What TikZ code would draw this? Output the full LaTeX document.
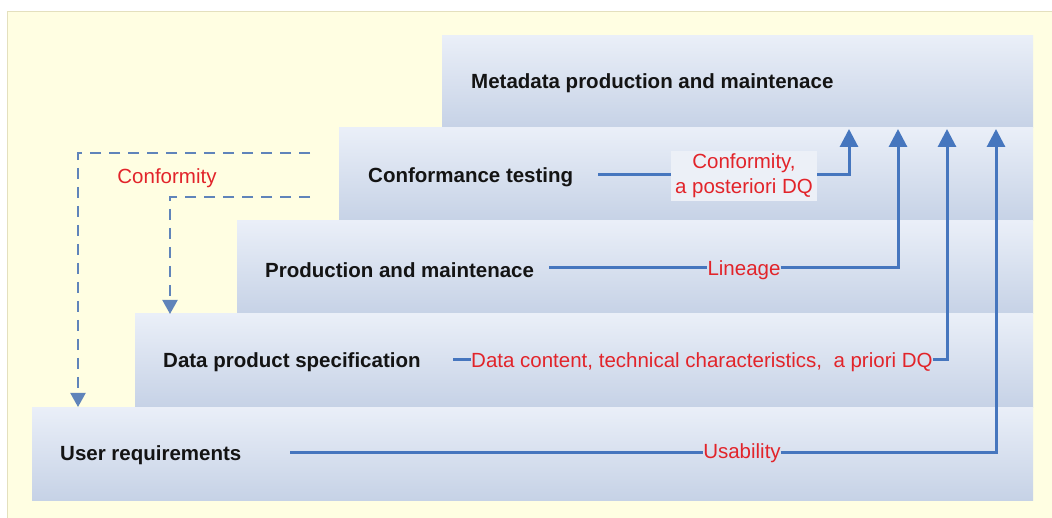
\documentclass[tikz,border=0pt]{standalone}
\usepackage{fontspec}
\setmainfont{Liberation Sans}
\usetikzlibrary{arrows.meta}
\definecolor{cream}{RGB}{255,254,226}
\definecolor{creamedge}{RGB}{228,224,190}
\definecolor{boxtop}{RGB}{234,239,248}
\definecolor{boxbot}{RGB}{198,210,230}
\definecolor{flow}{RGB}{70,118,190}
\definecolor{dashblue}{RGB}{96,132,186}
\definecolor{lblred}{RGB}{226,36,42}
\definecolor{lblbg}{RGB}{236,240,247}
\definecolor{ink}{RGB}{20,20,20}
\tikzset{
  stepshape/.style={top color=boxtop, bottom color=boxbot, draw=none},
  steptext/.style={anchor=west, inner sep=0pt, font=\fontsize{20.5}{24}\selectfont\bfseries, text=ink},
  redlbl/.style={inner sep=0pt, font=\fontsize{20.5}{25}\selectfont, text=lblred},
  flowline/.style={draw=flow, line width=3pt, -{Triangle[width=18pt,length=18pt]}},
  flowseg/.style={draw=flow, line width=3pt},
  dashline/.style={draw=dashblue, line width=2pt, dash pattern=on 11pt off 8pt, -{Triangle[width=15pt,length=14pt]}}
}
\begin{document}
\begin{tikzpicture}[x=1pt,y=-1pt]
\useasboundingbox (0,0) rectangle (1052,518);
% background
\fill[white] (0,0) rectangle (1052,518);
\filldraw[fill=cream, draw=creamedge, line width=1pt] (7,12) rectangle (1060,530);
% steps
\shade[stepshape] (442,36) rectangle (1033,128);
\shade[stepshape] (339,128) rectangle (1033,221);
\shade[stepshape] (237,221) rectangle (1033,314);
\shade[stepshape] (135,314) rectangle (1033,407);
\shade[stepshape] (32,407) rectangle (1033,500);
% step texts
\node[steptext] (meta) at (471,83) {Metadata production and maintenace};
\node[steptext] (conf) at (368,177) {Conformance testing};
\node[steptext] (prod) at (265,270) {Production and maintenace};
\node[steptext] (spec) at (163,362) {Data product specification};
\node[steptext] (user) at (60,455) {User requirements};
% arrow targets
\coordinate (t1) at (849,129);
\coordinate (t2) at (898,129);
\coordinate (t3) at (947,129);
\coordinate (t4) at (996,129);
% labels
\node[redlbl, fill=lblbg, align=center, inner xsep=4pt, inner ysep=3pt] (l1) at (744,176) {Conformity,\\a posteriori DQ};
\node[redlbl] (l2) at (744,270) {Lineage};
\node[redlbl, anchor=west] (l3) at (471,362) {Data content, technical characteristics,\ \ a priori DQ};
\node[redlbl] (l4) at (742,453) {Usability};
% conformance
\draw[flowseg] (598,175) -- (l1.west |- 598,175);
\draw[flowline] (l1.east |- 0,175) -- (849,175) -- (t1);
% lineage
\draw[flowseg] (549,268) -- (l2.west |- 0,268);
\draw[flowline] (l2.east |- 0,268) -- (898,268) -- (t2);
% spec
\draw[flowseg] (453,360) -- (l3.west |- 0,360);
\draw[flowline] (l3.east |- 0,360) -- (947,360) -- (t3);
% usability
\draw[flowseg] (290,452) -- (l4.west |- 0,452);
\draw[flowline] (l4.east |- 0,452) -- (996,452) -- (t4);
% conformity feedback
\coordinate (d1) at (310,153);
\coordinate (d2) at (310,197);
\coordinate (e1) at (78,407);
\coordinate (e2) at (170,314);
\draw[dashline] (d1) -- (78,153) -- (e1);
\draw[dashline] (d2) -- (170,197) -- (e2);
\node[redlbl] (cf) at (167,178) {Conformity};
\end{tikzpicture}
\end{document}
